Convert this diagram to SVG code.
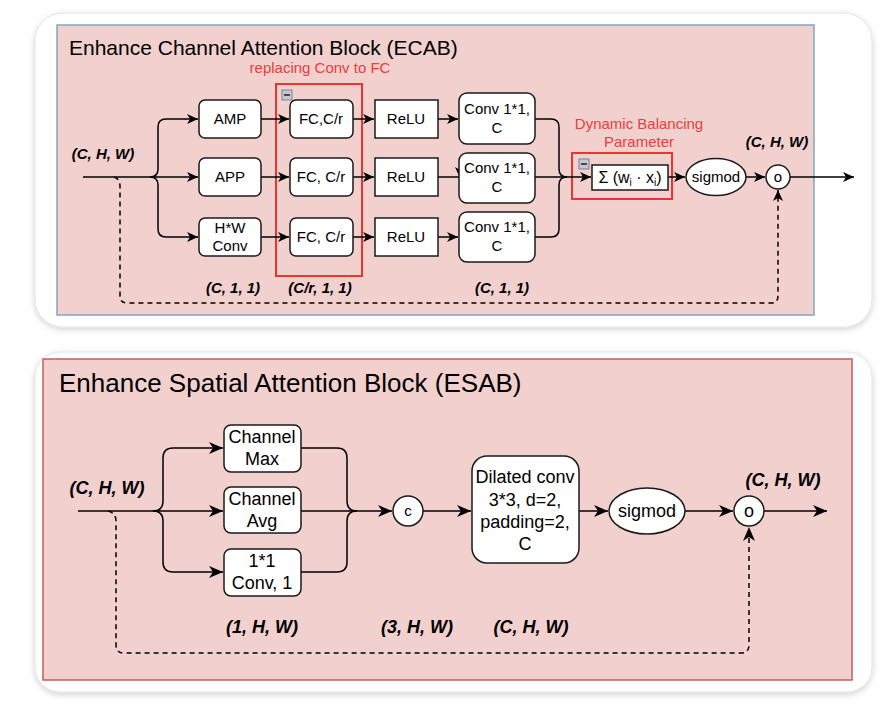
<svg xmlns="http://www.w3.org/2000/svg" width="894" height="718" viewBox="0 0 894 718">
<defs>
<filter id="sh" x="-5%" y="-5%" width="110%" height="115%">
<feDropShadow dx="0" dy="2" stdDeviation="3" flood-color="#000" flood-opacity="0.18"/>
</filter>
<marker id="a" markerWidth="11" markerHeight="10" refX="11" refY="5" orient="auto" markerUnits="userSpaceOnUse"><path d="M0,0 L11,5 L0,10 L3,5 z" fill="#000"/></marker>
<marker id="b" markerWidth="14" markerHeight="12" refX="14" refY="6" orient="auto" markerUnits="userSpaceOnUse"><path d="M0,0 L14,6 L0,12 L4,6 z" fill="#000"/></marker>
<style>
text{font-family:"Liberation Sans",Arial,sans-serif;fill:#000}
.t15{font-size:15px;text-anchor:middle}
.t18{font-size:18px;text-anchor:middle}
.lab{font-weight:bold;font-style:italic;text-anchor:middle}
.red{fill:#e8403a;font-size:15px;text-anchor:middle}
.box{fill:#fff;stroke:#1a1a1a;stroke-width:1.5}
.line{fill:none;stroke:#000;stroke-width:1.5}
.dash{fill:none;stroke:#000;stroke-width:1.5;stroke-dasharray:5 4}
.rbox{fill:none;stroke:#e8352e;stroke-width:2}
.icon{fill:#c5c8d2;stroke:#7d8290;stroke-width:1}
</style>
</defs>
<rect width="894" height="718" fill="#fff"/>

<!-- Top card -->
<g id="ecab-panel">
<rect x="35" y="13" width="837" height="314" rx="28" fill="#fff" stroke="#e4e4e4" filter="url(#sh)"/>
<rect x="57" y="25" width="757" height="290" fill="#f2d0ce" stroke="#7fa7c4" stroke-width="1.5"/>
<text x="69" y="55" style="font-size:21px">Enhance Channel Attention Block (ECAB)</text>
<text x="320" y="73" class="red">replacing Conv to FC</text>
<text x="639" y="129" class="red">Dynamic Balancing</text>
<text x="639" y="147" class="red">Parameter</text>
<rect x="276" y="84" width="86" height="192" class="rbox"/>
<rect x="572" y="153" width="100" height="46" class="rbox"/>
<rect x="282" y="90" width="10" height="10" class="icon"/><line x1="284" y1="95" x2="290" y2="95" stroke="#222" stroke-width="1.5"/>
<rect x="579" y="159" width="10" height="10" class="icon"/><line x1="581" y1="164" x2="587" y2="164" stroke="#222" stroke-width="1.5"/>
<text x="103" y="159" class="lab" style="font-size:15px">(C, H, W)</text>
<text x="777" y="147" class="lab" style="font-size:15px">(C, H, W)</text>
<text x="233" y="293" class="lab" style="font-size:15px">(C, 1, 1)</text>
<text x="320" y="293" class="lab" style="font-size:15px">(C/r, 1, 1)</text>
<text x="502" y="293" class="lab" style="font-size:15px">(C, 1, 1)</text>
</g>

<!-- Bottom card -->
<g id="esab-panel">
<rect x="35" y="352" width="837" height="340" rx="25" fill="#fff" stroke="#e4e4e4" filter="url(#sh)"/>
<rect x="43" y="359" width="809" height="321" fill="#f2d0ce" stroke="#c0605c" stroke-width="1.5"/>
<text x="59" y="392" style="font-size:26px">Enhance Spatial Attention Block (ESAB)</text>
<text x="107" y="494" class="lab" style="font-size:18px">(C, H, W)</text>
<text x="783" y="486" class="lab" style="font-size:18px">(C, H, W)</text>
<text x="262" y="633" class="lab" style="font-size:18px">(1, H, W)</text>
<text x="417" y="633" class="lab" style="font-size:18px">(3, H, W)</text>
<text x="531" y="633" class="lab" style="font-size:18px">(C, H, W)</text>
</g>

<!-- Connectors -->
<g id="connectors">
<!-- top -->
<path class="line" d="M83,177 H150 Q158,177 158,169 V127 Q158,119 166,119 H198" marker-end="url(#a)"/>
<path class="line" d="M150,177 H198" marker-end="url(#a)"/>
<path class="line" d="M150,177 Q158,177 158,185 V229 Q158,237 166,237 H198" marker-end="url(#a)"/>
<path class="line" d="M261,119 H289" marker-end="url(#a)"/>
<path class="line" d="M261,177 H289" marker-end="url(#a)"/>
<path class="line" d="M261,237 H289" marker-end="url(#a)"/>
<path class="line" d="M353,119 H374" marker-end="url(#a)"/>
<path class="line" d="M353,177 H374" marker-end="url(#a)"/>
<path class="line" d="M353,237 H374" marker-end="url(#a)"/>
<path class="line" d="M438,119 H458" marker-end="url(#a)"/>
<path class="line" d="M438,177 H459"/>
<path d="M455,167 L460,178 L465,167 L460,170 z" fill="#000"/>
<path class="line" d="M438,237 H458" marker-end="url(#a)"/>
<path class="line" d="M535,119 H551 Q559,119 559,127 V169 Q559,177 567,177"/>
<path class="line" d="M535,237 H551 Q559,237 559,229 V185 Q559,177 567,177"/>
<path class="line" d="M535,177 H591" marker-end="url(#a)"/>
<path class="line" d="M668,177 H685" marker-end="url(#a)"/>
<path class="line" d="M746,177 H765" marker-end="url(#a)"/>
<path class="line" d="M790,177 H854" marker-end="url(#a)"/>
<path class="dash" d="M114,177 Q120,179 120,186 V296 Q120,303 127,303 H771 Q778,303 778,296 V190" marker-end="url(#a)"/>
<!-- bottom -->
<path class="line" d="M78,511 H153 Q163,511 163,501 V458 Q163,448 173,448 H223" marker-end="url(#b)"/>
<path class="line" d="M153,511 H223" marker-end="url(#b)"/>
<path class="line" d="M153,511 Q163,511 163,521 V562 Q163,572 173,572 H223" marker-end="url(#b)"/>
<path class="line" d="M301,448 H337 Q347,448 347,458 V501 Q347,511 357,511"/>
<path class="line" d="M301,572 H337 Q347,572 347,562 V521 Q347,511 357,511"/>
<path class="line" d="M301,511 H392" marker-end="url(#b)"/>
<path class="line" d="M423,511 H471" marker-end="url(#b)"/>
<path class="line" d="M579,511 H608" marker-end="url(#b)"/>
<path class="line" d="M685,511 H733" marker-end="url(#b)"/>
<path class="line" d="M764,511 H827" marker-end="url(#b)"/>
<path class="dash" d="M108,511 Q116,513 116,521 V645 Q116,653 124,653 H741 Q749,653 749,645 V527" marker-end="url(#b)"/>
</g>

<!-- Top nodes -->
<g id="amp"><rect x="199" y="100" width="62" height="38" rx="6" class="box"/><text x="230" y="124" class="t15">AMP</text></g>
<g id="app"><rect x="199" y="158" width="62" height="38" rx="6" class="box"/><text x="230" y="182" class="t15">APP</text></g>
<g id="hwconv"><rect x="199" y="218" width="62" height="38" rx="6" class="box"/><text x="230" y="233" class="t15">H*W</text><text x="230" y="251" class="t15">Conv</text></g>
<g id="fc1"><rect x="290" y="100" width="63" height="38" rx="6" class="box"/><text x="321" y="124" class="t15">FC,C/r</text></g>
<g id="fc2"><rect x="290" y="158" width="63" height="38" rx="6" class="box"/><text x="321" y="182" class="t15">FC, C/r</text></g>
<g id="fc3"><rect x="290" y="218" width="63" height="38" rx="6" class="box"/><text x="321" y="242" class="t15">FC, C/r</text></g>
<g id="relu1"><rect x="375" y="100" width="63" height="38" class="box"/><text x="406" y="124" class="t15">ReLU</text></g>
<g id="relu2"><rect x="375" y="158" width="63" height="38" class="box"/><text x="406" y="182" class="t15">ReLU</text></g>
<g id="relu3"><rect x="375" y="218" width="63" height="38" class="box"/><text x="406" y="242" class="t15">ReLU</text></g>
<g id="conv1"><rect x="459" y="93" width="76" height="51" rx="8" class="box"/><text x="497" y="114" class="t15">Conv 1*1,</text><text x="497" y="133" class="t15">C</text></g>
<g id="conv2"><rect x="459" y="153" width="76" height="50" rx="8" class="box"/><text x="497" y="173" class="t15">Conv 1*1,</text><text x="497" y="192" class="t15">C</text></g>
<g id="conv3"><rect x="459" y="212" width="76" height="50" rx="8" class="box"/><text x="497" y="232" class="t15">Conv 1*1,</text><text x="497" y="251" class="t15">C</text></g>
<g id="sum"><rect x="592" y="165" width="76" height="25" class="box"/><text x="630" y="183" style="font-size:16px;text-anchor:middle">Σ (w<tspan dy="3" style="font-size:10px">i</tspan><tspan dy="-3"> · x</tspan><tspan dy="3" style="font-size:10px">i</tspan><tspan dy="-3">)</tspan></text></g>
<g id="sigmod1"><ellipse cx="716" cy="177" rx="30" ry="18.5" class="box"/><text x="716" y="182" class="t15">sigmod</text></g>
<g id="mul1"><circle cx="778" cy="177" r="12" class="box"/><text x="778" y="182" class="t15">o</text></g>

<!-- Bottom nodes -->
<g id="chmax"><rect x="224" y="425" width="77" height="47" rx="7" class="box"/><text x="262" y="443" class="t18">Channel</text><text x="262" y="465" class="t18">Max</text></g>
<g id="chavg"><rect x="224" y="487" width="77" height="46" rx="7" class="box"/><text x="262" y="505" class="t18">Channel</text><text x="262" y="527" class="t18">Avg</text></g>
<g id="conv11"><rect x="224" y="549" width="77" height="47" rx="7" class="box"/><text x="262" y="567" class="t18">1*1</text><text x="262" y="589" class="t18">Conv, 1</text></g>
<g id="concat"><circle cx="408" cy="511" r="15" class="box"/><text x="408" y="516" class="t15">c</text></g>
<g id="dilated"><rect x="472" y="456" width="107" height="107" rx="15" class="box"/><text x="525" y="483" class="t18">Dilated conv</text><text x="525" y="506" class="t18">3*3, d=2,</text><text x="525" y="528" class="t18">padding=2,</text><text x="525" y="550" class="t18">C</text></g>
<g id="sigmod2"><ellipse cx="647" cy="511" rx="38" ry="23" class="box"/><text x="647" y="517" class="t18">sigmod</text></g>
<g id="mul2"><circle cx="749" cy="511" r="15" class="box"/><text x="749" y="517" class="t18">o</text></g>
</svg>
